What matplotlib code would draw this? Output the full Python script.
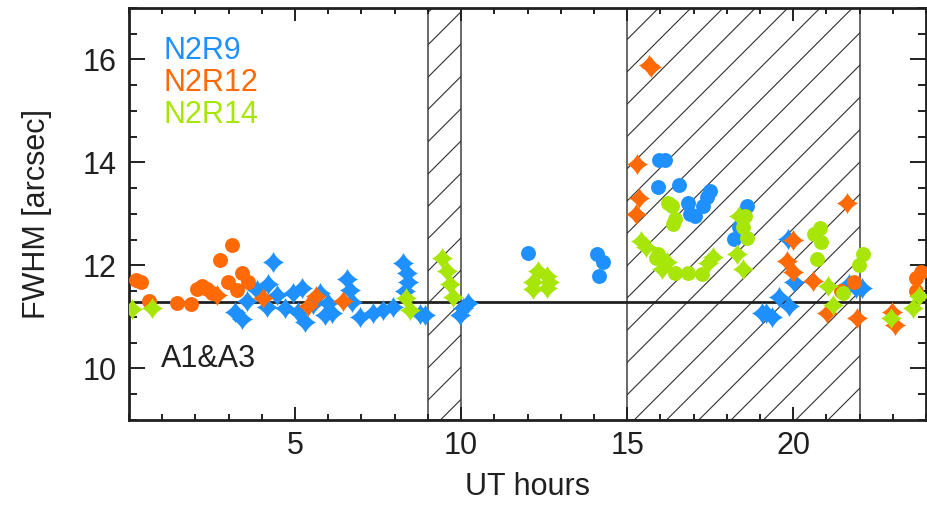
import matplotlib
matplotlib.use("Agg")
import matplotlib.pyplot as plt
import numpy as np
from matplotlib.path import Path
from matplotlib.patches import Rectangle
from matplotlib.ticker import MultipleLocator

plt.rcParams['font.family'] = ['Liberation Sans', 'DejaVu Sans']

# FWHM vs UT, three runs; stars and circles are the two sets per run
n2r9_star_t = [3.2, 3.41, 3.56, 3.86, 4.19, 4.34, 4.16, 4.46, 4.7, 4.94, 5.09, 5.21, 5.3, 5.54,
               5.76, 5.9, 6.0, 6.12, 6.57, 6.66, 6.72, 6.96, 7.35, 7.65, 7.95, 8.25, 8.37, 8.4,
               8.31, 8.76, 8.9, 9.96, 10.05, 10.2, 19.07, 19.19, 19.37, 19.58, 19.88, 19.83,
               20.03, 21.69, 21.9, 22.08]
n2r9_star_f = [11.09, 10.97, 11.32, 11.52, 11.65, 12.06, 11.19, 11.42, 11.17, 11.46, 11.09, 11.57,
               10.9, 11.26, 11.46, 11.03, 11.28, 11.07, 11.73, 11.52, 11.3, 11.0, 11.07, 11.13,
               11.2, 12.05, 11.86, 11.67, 11.5, 11.05, 11.03, 11.03, 11.17, 11.28, 11.07, 11.07,
               11.0, 11.38, 11.22, 12.52, 11.67, 11.65, 11.57, 11.57]
n2r9_circ_t = [12.0, 14.08, 14.26, 14.15, 15.97, 16.15, 15.92, 16.55, 16.82, 16.88, 17.03, 17.27,
               17.39, 17.48, 18.62, 18.38, 18.23]
n2r9_circ_f = [12.25, 12.23, 12.06, 11.79, 14.05, 14.05, 13.53, 13.57, 13.22, 13.0, 12.97, 13.16,
               13.33, 13.45, 13.16, 12.74, 12.52]

n2r12_star_t = [2.66, 4.03, 5.39, 5.62, 6.45, 15.28, 15.34, 15.25, 15.65, 15.72, 21.63, 19.98,
                19.8, 20.0, 20.6, 21.02, 21.93, 22.97, 23.05]
n2r12_star_f = [11.42, 11.36, 11.22, 11.4, 11.32, 13.97, 13.31, 12.99, 15.9, 15.86, 13.22, 12.5,
                12.09, 11.88, 11.7, 11.07, 10.98, 11.1, 10.85]
n2r12_circ_t = [0.2, 0.35, 0.59, 1.46, 1.88, 2.06, 2.2, 2.36, 2.51, 2.75, 3.11, 2.99, 3.41, 3.59,
                3.26, 21.84, 21.45, 23.7, 23.85, 23.7]
n2r12_circ_f = [11.72, 11.67, 11.32, 11.27, 11.25, 11.55, 11.61, 11.55, 11.47, 12.1, 12.39, 11.67,
                11.86, 11.67, 11.52, 11.67, 11.5, 11.75, 11.88, 11.5]

n2r14_star_t = [0.1, 0.68, 8.34, 8.46, 9.42, 9.57, 9.66, 9.76, 12.16, 12.3, 12.16, 12.57, 12.66,
                12.57, 15.43, 15.58, 16.04, 16.19, 17.42, 17.57, 18.32, 18.48, 18.38, 21.05,
                21.2, 22.93, 23.6, 23.78]
n2r14_star_f = [11.15, 11.18, 11.36, 11.13, 12.15, 11.9, 11.65, 11.38, 11.67, 11.9, 11.55, 11.8,
                11.67, 11.57, 12.48, 12.35, 11.94, 12.06, 12.04, 12.16, 12.23, 11.94, 12.97, 11.6,
                11.24, 10.98, 11.18, 11.4]
n2r14_circ_t = [16.22, 16.34, 16.43, 16.37, 15.92, 15.88, 16.07, 16.43, 16.82, 17.24, 18.54, 18.48,
                18.62, 20.8, 20.63, 20.84, 20.72, 22.1, 21.97, 21.5]
n2r14_circ_f = [13.22, 13.16, 12.91, 12.81, 12.23, 12.14, 12.1, 11.86, 11.86, 11.84, 12.97, 12.74,
                12.54, 12.72, 12.62, 12.46, 12.13, 12.23, 12.01, 11.46]

run_names = ['N2R9', 'N2R12', 'N2R14']
run_colors = ['#1E90FF', '#FF6A06', '#A8E60A']
ref_fwhm = 11.3
shaded = [(9, 10), (15, 22)]

# 4-pointed star marker with curved sides
t = np.linspace(0, 2 * np.pi, 81)
c, s_ = np.cos(t), np.sin(t)
p = 2.6
star = Path(np.column_stack([np.sign(c) * np.abs(c) ** p, np.sign(s_) * np.abs(s_) ** p]))

fig = plt.figure(figsize=(9.28, 5.15), dpi=100)
ax = fig.add_axes([0.139, 0.1845, 0.859, 0.8])
ax.set_xlim(0, 24)
ax.set_ylim(9, 17)

# shaded intervals: "/" hatching clipped to each box
W = fig.get_figwidth() * fig.dpi * 0.859
H = fig.get_figheight() * fig.dpi * 0.8
sx, sy = W / 24, H / 8
step = 32.3
for a, b in shaded:
    box = Rectangle((a, 9), b - a, 8, fill=False, edgecolor='#404040', lw=1.1, zorder=1)
    ax.add_patch(box)
    c0 = 15 * sx - 12 * sy
    cmin, cmax = a * sx - 17 * sy, b * sx - 9 * sy
    for n in range(int((cmin - c0) // step) - 1, int((cmax - c0) // step) + 2):
        cc = c0 + n * step
        yy = np.array([9, 17])
        xx = (cc + yy * sy) / sx
        ln, = ax.plot(xx, yy, color='#303030', lw=0.8, zorder=1)
        ln.set_clip_path(box)

ax.axhline(ref_fwhm, color='#202020', lw=2.0, zorder=2)

series = [(n2r9_star_t, n2r9_star_f, n2r9_circ_t, n2r9_circ_f),
          (n2r12_star_t, n2r12_star_f, n2r12_circ_t, n2r12_circ_f),
          (n2r14_star_t, n2r14_star_f, n2r14_circ_t, n2r14_circ_f)]
for (st, sf, ct, cf), col in zip(series, run_colors):
    ax.scatter(st, sf, marker=star, s=240, color=col, linewidths=0, zorder=3)
    ax.scatter(ct, cf, marker='o', s=115, color=col, linewidths=0, zorder=3)

for i, (name, col) in enumerate(zip(run_names, run_colors)):
    ax.text(1.04, 16.0 - 0.62 * i, name, color=col, fontsize=22, va='baseline')
ax.text(0.95, 10.03, 'A1&A3', color='#202020', fontsize=22, va='baseline')

ax.set_xticks([5, 10, 15, 20])
ax.xaxis.set_minor_locator(MultipleLocator(1))
ax.set_yticks([10, 12, 14, 16])
ax.yaxis.set_minor_locator(MultipleLocator(0.5))
ax.tick_params(which='both', direction='in', top=True, right=True, width=1.4,
               labelsize=22, colors='#202020')
ax.tick_params(axis='x', which='major', length=9.5, pad=8)
ax.tick_params(axis='x', which='minor', length=4.5)
ax.tick_params(axis='y', which='major', length=11.5, pad=9)
ax.tick_params(axis='y', which='minor', length=5.8)
for sp in ax.spines.values():
    sp.set_linewidth(2.0)
    sp.set_color('#202020')

ax.set_xlabel('UT hours', fontsize=22, color='#202020', labelpad=8)
ax.set_ylabel('FWHM [arcsec]', fontsize=22, color='#202020', labelpad=22)

fig.savefig('out.png', dpi=100)
